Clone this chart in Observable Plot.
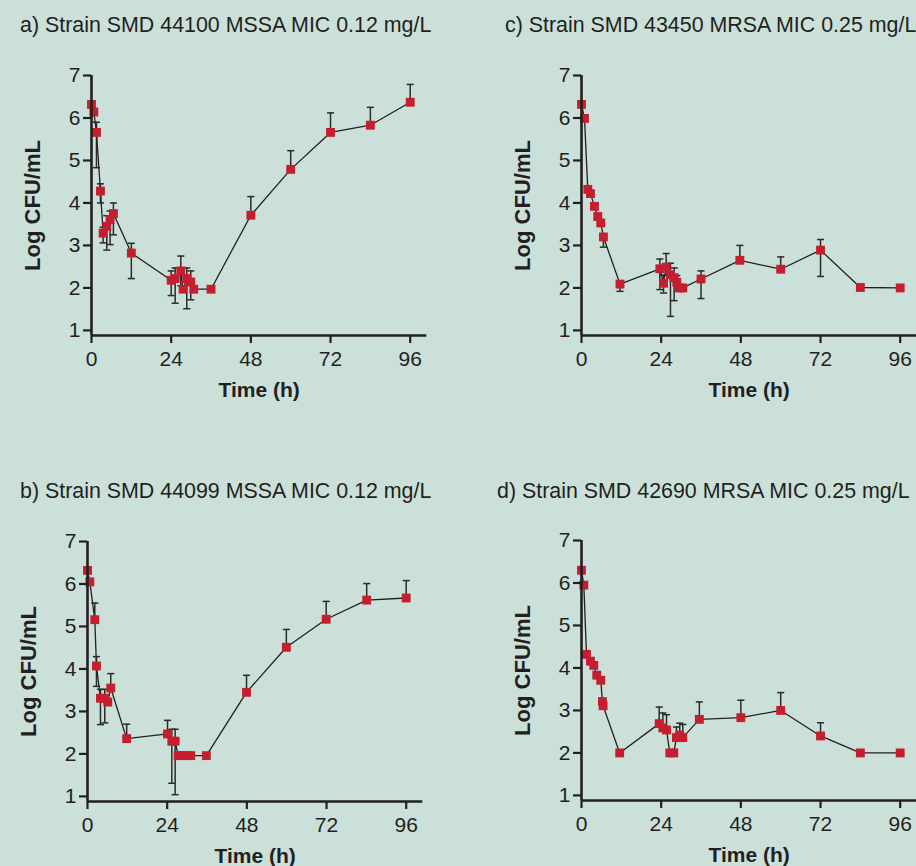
<!DOCTYPE html>
<html><head><meta charset="utf-8">
<script src="https://cdn.jsdelivr.net/npm/d3@7"></script>
<script src="https://cdn.jsdelivr.net/npm/@observablehq/plot@0.6"></script>
<style>
html,body{margin:0;padding:0;}
body{width:916px;height:866px;overflow:hidden;background:#cbe0d9;font-family:"Liberation Sans",Arial,sans-serif;color:#231f20;}
#fig{position:relative;width:916px;height:866px;overflow:hidden;}
.title{position:absolute;font-size:21.4px;line-height:21px;white-space:nowrap;}
.panel{position:absolute;}
</style></head><body><div id="fig"></div>
<script>
// ---- tick labels ----
const ticksX = [0, 24, 48, 72, 96];
const ticksY = [1, 2, 3, 4, 5, 6, 7];
const xLabel = "Time (h)";
const yLabel = "Log CFU/mL";

// ---- panel titles ----
const titleA = "a) Strain SMD 44100 MSSA MIC 0.12 mg/L";
const titleB = "b) Strain SMD 44099 MSSA MIC 0.12 mg/L";
const titleC = "c) Strain SMD 43450 MRSA MIC 0.25 mg/L";
const titleD = "d) Strain SMD 42690 MRSA MIC 0.25 mg/L";

// ---- panel a ----
const timeA = [0, 0.7, 1.5, 2.7, 3.5, 4.6, 5.6, 6.6, 12, 24, 25.2, 26.9, 27.6, 28.7, 29.9, 30.8, 36, 48, 60, 72, 84, 96];
const logA  = [6.32, 6.14, 5.66, 4.28, 3.29, 3.45, 3.61, 3.75, 2.82, 2.18, 2.22, 2.40, 1.97, 2.22, 2.14, 1.97, 1.97, 3.71, 4.79, 5.66, 5.83, 6.37];
const hiA   = [null, null, 5.90, 4.45, 3.43, 3.70, 3.81, 4.00, 3.05, 2.40, 2.47, 2.75, null, 2.47, 2.40, null, null, 4.15, 5.23, 6.12, 6.25, 6.79];
const loA   = [null, null, 4.83, 4.00, 3.06, 2.89, 3.02, 3.25, 2.22, 1.82, 1.64, 2.05, null, 1.51, 1.72, null, null, null, null, null, null, null];

// ---- panel b ----
const timeB = [0, 0.7, 2.2, 2.7, 3.9, 5.2, 6.1, 7.0, 11.8, 24.1, 25.4, 26.4, 27.3, 28.6, 29.9, 31.1, 35.8, 47.9, 59.9, 71.9, 84.1, 96];
const logB  = [6.32, 6.05, 5.16, 4.07, 3.31, 3.31, 3.22, 3.55, 2.36, 2.47, 2.30, 2.30, 1.96, 1.96, 1.96, 1.96, 1.96, 3.45, 4.51, 5.17, 5.62, 5.67];
const hiB   = [null, null, 5.55, 4.29, 3.52, 3.52, null, 3.89, 2.70, 2.79, 2.58, 2.58, null, null, null, null, null, 3.85, 4.93, 5.59, 6.01, 6.08];
const loB   = [null, null, null, 3.59, 2.69, 2.73, null, null, null, null, 1.31, 1.04, null, null, null, null, null, null, null, null, null, null];

// ---- panel c ----
const timeC = [0, 0.9, 1.9, 2.7, 3.9, 4.9, 5.8, 6.6, 11.6, 23.6, 24.7, 25.5, 26.8, 27.9, 28.7, 29.4, 30.5, 36, 47.7, 60, 72, 84, 96];
const logC  = [6.32, 5.99, 4.32, 4.22, 3.92, 3.68, 3.53, 3.20, 2.09, 2.45, 2.11, 2.49, 2.31, 2.24, 2.13, 2.00, 2.00, 2.21, 2.65, 2.44, 2.89, 2.01, 2.00];
const hiC   = [null, null, null, null, null, null, null, null, null, 2.68, 2.30, 2.81, 2.58, 2.47, 2.29, null, null, 2.40, 3.00, 2.73, 3.14, null, null];
const loC   = [null, null, null, null, null, null, null, 2.96, 1.92, 1.96, 1.88, null, 1.33, 1.70, null, null, null, 1.75, null, null, 2.27, null, null];

// ---- panel d ----
const timeD = [0, 0.7, 1.5, 2.7, 3.7, 4.6, 5.8, 6.3, 6.5, 11.5, 23.4, 24.5, 25.6, 26.6, 27.8, 28.6, 29.6, 30.5, 35.5, 48, 60, 72, 84, 96];
const logD  = [6.30, 5.95, 4.32, 4.16, 4.06, 3.83, 3.71, 3.21, 3.11, 2.00, 2.69, 2.59, 2.54, 2.00, 2.00, 2.36, 2.42, 2.36, 2.79, 2.83, 3.00, 2.40, 2.00, 2.00];
const hiD   = [null, null, null, null, null, null, null, null, null, null, 3.08, 2.94, 2.90, null, null, 2.61, 2.70, 2.67, 3.20, 3.24, 3.42, 2.71, null, null];
const loD   = timeD.map(() => null);

const INK = "#231f20";
const RED = "#c41e2f";
const FONT = "'Liberation Sans', Arial, sans-serif";
const yBase = 0.88;          // bottom of the y scale (axis baseline sits just below 1)
const xMax = 101;            // x axis line runs slightly past 96

const cap = {
  draw(ctx, size) {
    const w = Math.sqrt(size);
    ctx.moveTo(-w, 0);
    ctx.lineTo(w, 0);
  }
};

const fig = document.getElementById("fig");

function panel({t, v, hi, lo, fx, fy, title, tx, ty}) {
  const rows = t.map((x, i) => ({t: x, v: v[i], hi: hi[i], lo: lo[i]}));
  const up = rows.filter(d => d.hi != null);
  const dn = rows.filter(d => d.lo != null);
  const W = 450, H = 400, ML = 91, MT = 35, FW = 335.3, FH = 260;
  const chart = Plot.plot({
    width: W, height: H,
    marginLeft: ML, marginTop: MT, marginRight: W - ML - FW, marginBottom: H - MT - FH,
    x: {domain: [0, xMax]},
    y: {domain: [yBase, 7]},
    style: {background: "transparent", fontFamily: FONT, fontSize: "21px", color: INK, overflow: "visible"},
    marks: [
      Plot.ruleX(up, {x: "t", y1: "v", y2: "hi", stroke: "#2b2b2b", strokeWidth: 1.5}),
      Plot.ruleX(dn, {x: "t", y1: "v", y2: "lo", stroke: "#2b2b2b", strokeWidth: 1.5}),
      Plot.dot(up, {x: "t", y: "hi", symbol: cap, r: 2, stroke: "#2b2b2b", strokeWidth: 1.5}),
      Plot.dot(dn, {x: "t", y: "lo", symbol: cap, r: 2, stroke: "#2b2b2b", strokeWidth: 1.5}),
      Plot.line(rows, {x: "t", y: "v", stroke: INK, strokeWidth: 1.3}),
      Plot.dot(rows, {x: "t", y: "v", symbol: "square", r: 5, fill: RED}),
      Plot.axisX({ticks: ticksX, tickFormat: d => String(d), tickSize: 8, tickPadding: 8, label: null, strokeWidth: 2.2, fill: INK, stroke: INK, fontSize: 21}),
      Plot.axisY({ticks: ticksY, tickFormat: d => String(d), tickSize: 8, tickPadding: 3, label: null, strokeWidth: 2.2, fill: INK, stroke: INK, fontSize: 21}),
      Plot.ruleX([0], {stroke: INK, strokeWidth: 2.6}),
      Plot.ruleY([yBase], {stroke: INK, strokeWidth: 2.6}),
      Plot.text([yLabel], {text: d => d, frameAnchor: "left", dx: -59, rotate: -90, textAnchor: "middle", lineAnchor: "middle", fontWeight: "bold", fontSize: 22, fill: INK}),
      Plot.text([xLabel], {text: d => d, frameAnchor: "bottom", dy: 55, textAnchor: "middle", lineAnchor: "middle", fontWeight: "bold", fontSize: 21, fill: INK})
    ]
  });
  chart.classList.add("panel");
  chart.style.left = (fx - ML) + "px";
  chart.style.top = (fy - MT) + "px";
  fig.appendChild(chart);
  const tdiv = document.createElement("div");
  tdiv.className = "title";
  tdiv.textContent = title;
  tdiv.style.left = tx + "px";
  tdiv.style.top = ty + "px";
  fig.appendChild(tdiv);
}

panel({t: timeA, v: logA, hi: hiA, lo: loA, fx: 90.7, fy: 75, title: titleA, tx: 20, ty: 15});
panel({t: timeC, v: logC, hi: hiC, lo: loC, fx: 580.7, fy: 75, title: titleC, tx: 505, ty: 15});
panel({t: timeB, v: logB, hi: hiB, lo: loB, fx: 86.7, fy: 541, title: titleB, tx: 20, ty: 481});
panel({t: timeD, v: logD, hi: hiD, lo: loD, fx: 580.7, fy: 540, title: titleD, tx: 497, ty: 481});
</script>
</body></html>
